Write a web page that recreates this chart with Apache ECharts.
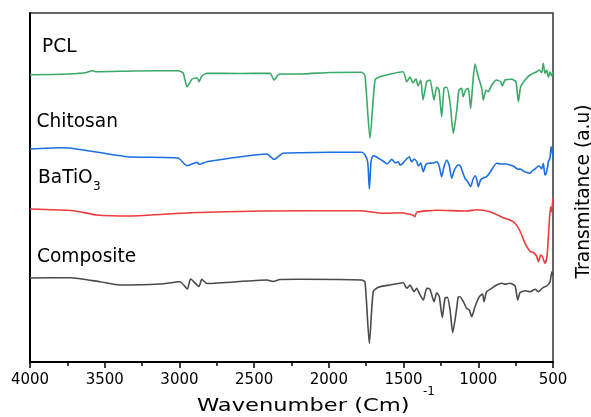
<!DOCTYPE html>
<html>
<head>
<meta charset="utf-8">
<script src="https://cdn.jsdelivr.net/npm/echarts@6/dist/echarts.min.js"></script>
<style>
html,body{margin:0;padding:0;background:#fff;}
#chart{width:591px;height:417px;}
</style>
</head>
<body>
<div id="chart"></div>
<script>
// Spectra: [wavenumber (cm^-1), transmittance (arbitrary, offset units)]
const seriesNames = ['PCL', 'Chitosan', 'BaTiO3', 'Composite'];
const seriesColors = ['#3BA968', '#1C6FE0', '#EE3B3B', '#4A4A4A'];

const pcl = [
  [4000,287.3],[3800,287.7],[3640,289],[3578,291.3],[3560,290.3],[3300,291],[3010,291.3],[2975,289],
  [2949,275],[2915,283],[2882,284.3],[2869,280.3],[2850,286],[2815,288.7],[2600,288.5],[2394,288.7],
  [2367,282],[2340,287],[2327,288],[2193,288],[1992,289.5],[1780,289.7],[1758,286],[1725,223.7],
  [1691,282],[1658,285.3],[1504,290.3],[1479,280.3],[1457,285],[1437,279],[1417,283.3],[1403,276],
  [1385,282],[1370,262],[1345,280.3],[1323,282],[1296,262],[1278,275],[1263,272],[1245,245.3],
  [1229,273.7],[1211,274.7],[1189,259],[1167,228.7],[1144,252],[1129,272],[1111,273.7],[1102,265.3],
  [1084,272],[1067,273.7],[1051,253.7],[1037,278.7],[1022,298],[1000,285.3],[977,273.7],[967,262],
  [948,272],[933,270.3],[910,277],[877,282],[850,280.3],[839,276],[821,282],[776,282.7],[748,280.3],
  [732,260.3],[716,275.3],[687,282],[654,287],[609,290.3],[592,292],[576,289.3],[565,298.7],
  [554,288.7],[542,292],[531,284.7],[520,290.3],[509,286],[500,290.3]
];

const chitosan = [
  [4000,213],[3799,214.3],[3732,214],[3351,205.3],[3010,204],[2949,196.3],[2882,199.7],[2869,197.7],
  [2815,200.3],[2414,208],[2367,202.7],[2307,208.7],[2193,209.3],[1992,209.7],[1780,209.7],[1758,207],
  [1740,200],[1729,172.8],[1718,200],[1705,206.3],[1680,205],[1660,203],[1638,201],[1610,198],
  [1590,201],[1579,202.7],[1555,199],[1535,200.3],[1524,197],[1505,198.7],[1480,203],[1462,205.3],
  [1446,200],[1430,203],[1412,200.3],[1401,196],[1385,199],[1368,190.3],[1352,197],[1335,198.7],
  [1300,199],[1278,200.3],[1262,196],[1245,185.3],[1230,195],[1211,202],[1195,197],[1178,183.7],
  [1160,192],[1134,197],[1120,196],[1105,190],[1089,183.7],[1070,180],[1051,175.3],[1037,182],
  [1022,186.3],[1011,183],[1000,175.3],[985,182],[967,184],[944,185.3],[920,190],[877,198.7],
  [850,198],[810,198],[788,197],[766,196],[740,193],[732,192.7],[720,193],[699,191],[665,189],
  [654,188.7],[640,191],[620,193],[598,196],[587,195.3],[576,193],[565,198.7],[554,187],[547,188],
  [535,196],[531,200.3],[520,204],[513,215.3],[507,212],[500,205.3]
];

const batio3 = [
  [4000,153],[3710,151.3],[3553,147],[3331,146],[2929,149.3],[2441,151],[1792,151.3],[1638,148.7],
  [1524,149.3],[1440,147],[1424,145.3],[1412,149.7],[1278,151.7],[1078,151],[1011,152.3],[922,150.3],
  [833,144.3],[788,142],[754,138.7],[721,131],[687,118.7],[665,113],[654,110.5],[632,109.5],
  [610,106],[598,100.3],[582,107],[570,105],[554,98.7],[542,104],[535,115.3],[525,140.3],
  [516,155.3],[510,150],[500,164]
];

const composite = [
  [4000,84],[3732,84.3],[3532,80.3],[3398,77],[3130,78],[2996,80.3],[2947,73],[2925,83],[2869,75.5],
  [2851,82.7],[2815,78.5],[2414,82],[2374,80.5],[2327,82.5],[2193,82.7],[1780,82],[1758,80],
  [1729,18.7],[1703,70.3],[1669,74.7],[1591,77],[1502,79.3],[1479,73.7],[1457,77],[1430,70.3],
  [1412,73.7],[1395,68.7],[1368,62],[1345,73.7],[1323,72.7],[1296,60.3],[1278,69.3],[1261,65.3],
  [1241,44.7],[1223,63.7],[1207,64.7],[1189,52],[1171,29.3],[1149,48.7],[1134,65],[1122,65.3],
  [1100,60.3],[1078,53.7],[1060,52],[1044,45.3],[1022,55.3],[993,65.3],[971,68],[962,60.3],
  [944,70.3],[910,73.7],[877,77],[843,78.7],[821,77.7],[788,78.7],[754,76],[736,62],[721,69.3],
  [687,71.3],[654,70.3],[620,72.7],[598,70.3],[565,74.7],[542,76],[520,80.3],[507,90.3],[500,87]
];

const spectra = [pcl, chitosan, batio3, composite];
const xMin = 500, xMax = 4000, xStep = 500;

const FONT = '"DejaVu Sans", "Liberation Sans", sans-serif';
const chart = echarts.init(document.getElementById('chart'), null, {renderer: 'canvas'});

const option = {
  animation: false,
  backgroundColor: '#ffffff',
  grid: {left: 30, right: 38, top: 13, bottom: 55, show: true, borderColor: '#333', borderWidth: 1.5},
  xAxis: {
    type: 'value', min: xMin, max: xMax, interval: xStep, inverse: true,
    axisLine: {show: true, lineStyle: {color: '#000', width: 2}},
    axisTick: {show: true, inside: false, length: 6, lineStyle: {color: '#000', width: 1.5}},
    minorTick: {show: true, splitNumber: 2, length: 4, lineStyle: {color: '#000', width: 1.5}},
    axisLabel: {show: true, color: '#000', fontSize: 15, fontFamily: FONT, margin: 11,
      showMinLabel: true, showMaxLabel: true, formatter: v => String(v)},
    splitLine: {show: false}
  },
  yAxis: {
    type: 'value', min: 0, max: 349,
    axisLine: {show: true, lineStyle: {color: '#000', width: 2}},
    axisTick: {show: false}, axisLabel: {show: false}, splitLine: {show: false}
  },
  series: spectra.map((d, i) => ({
    name: seriesNames[i], type: 'line', data: d, showSymbol: false, symbol: 'none',
    smooth: 0.2, lineStyle: {color: seriesColors[i], width: 1.6}, z: 2
  })),
  graphic: [
    {type: 'text', x: 42, y: 47.5, style: {text: 'PCL', font: '18.6px ' + FONT, fill: '#000', align: 'left', verticalAlign: 'middle'}},
    {type: 'text', x: 36.5, y: 122, style: {text: 'Chitosan', font: '18.6px ' + FONT, fill: '#000', align: 'left', verticalAlign: 'middle'}},
    {type: 'text', x: 38, y: 178.3, style: {text: 'BaTiO', font: '18.6px ' + FONT, fill: '#000', align: 'left', verticalAlign: 'middle'}},
    {type: 'text', x: 93, y: 186.5, style: {text: '3', font: '12px ' + FONT, fill: '#000', align: 'left', verticalAlign: 'middle'}},
    {type: 'text', x: 37, y: 256.7, style: {text: 'Composite', font: '18.6px ' + FONT, fill: '#000', align: 'left', verticalAlign: 'middle'}},
    {type: 'text', x: 197, y: 406.5, scaleX: 1.22, style: {text: 'Wavenumber (Cm)', font: '18.5px ' + FONT, fill: '#000', align: 'left', verticalAlign: 'middle'}},
    {type: 'text', x: 423, y: 392, style: {text: '-1', font: '12px ' + FONT, fill: '#000', align: 'left', verticalAlign: 'middle'}},
    {type: 'text', x: 584, y: 191.5, rotation: Math.PI / 2, style: {text: 'Transmitance (a.u)', font: '18.6px ' + FONT, fill: '#000', align: 'center', verticalAlign: 'middle'}}
  ]
};
chart.setOption(option);
</script>
</body>
</html>
